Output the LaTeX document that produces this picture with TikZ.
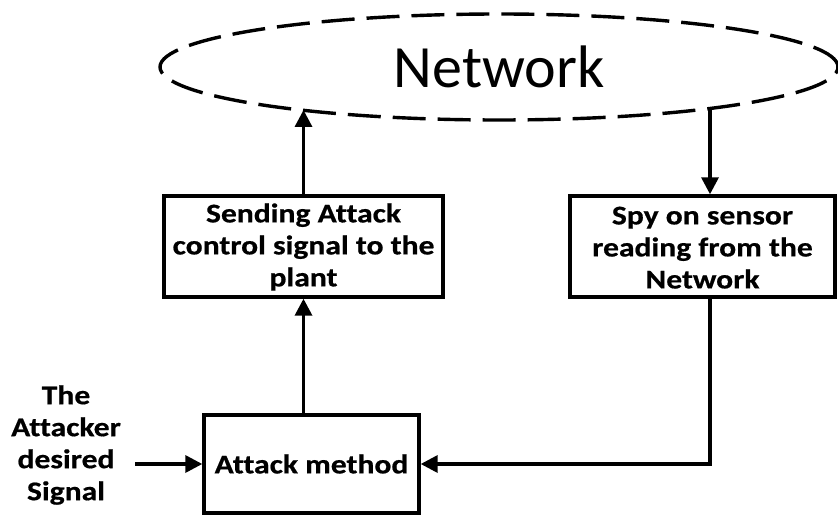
\documentclass[tikz,border=0pt]{standalone}
\usepackage{fontspec}
\setmainfont{Carlito}
\newfontfamily\boxfont{Carlito}[FakeStretch=1.17,FakeBold=0.6,Ligatures=NoCommon]
\usetikzlibrary{shapes.geometric,arrows.meta}
\begin{document}
\begin{tikzpicture}[x=1pt,y=-1pt,
  lw/.style={line width=3.4pt},
  blk/.style={draw, lw, align=center, inner sep=0pt,
    font=\boxfont\bfseries\fontsize{27}{32}\selectfont},
  lbl/.style={align=center, inner sep=0pt,
    font=\boxfont\bfseries\fontsize{27}{32}\selectfont},
  arr/.style={lw, -{Triangle[length=17pt,width=17pt]}},
  cloud/.style={draw, ellipse, lw, dash pattern=on 33pt off 12pt,
    inner sep=0pt, font=\fontsize{60}{70}\selectfont}]
\useasboundingbox (0,0) rectangle (838,516);
\node[cloud, minimum width=678pt, minimum height=106pt] (net) at (499,67) {Network};
\node[blk, minimum width=279pt, minimum height=101pt] (sa) at (303.5,246.5)
  {\rule{0pt}{20pt}Sending Attack\\control signal to the\\plant};
\node[blk, minimum width=265pt, minimum height=101pt] (spy) at (702.5,246.5)
  {\rule{0pt}{20pt}Spy on sensor\\reading from the\\Network};
\node[blk, minimum width=215pt, minimum height=98pt] (am) at (311.5,464)
  {Attack method};
\node[lbl] (sig) at (66,445) {The\\Attacker\\desired\\Signal};
\coordinate (t1) at (303.5,110);
\coordinate (t2) at (710,110);
\coordinate (in) at (135,464);
\draw[arr] (sa.south |- am.north) -- (sa.south);
\draw[arr] (sa.north) -- (t1);
\draw[arr] (t2) -- (t2 |- spy.north);
\draw[arr] (t2 |- spy.south) |- (am.east);
\draw[arr] (in) -- (am.west);
\end{tikzpicture}
\end{document}
